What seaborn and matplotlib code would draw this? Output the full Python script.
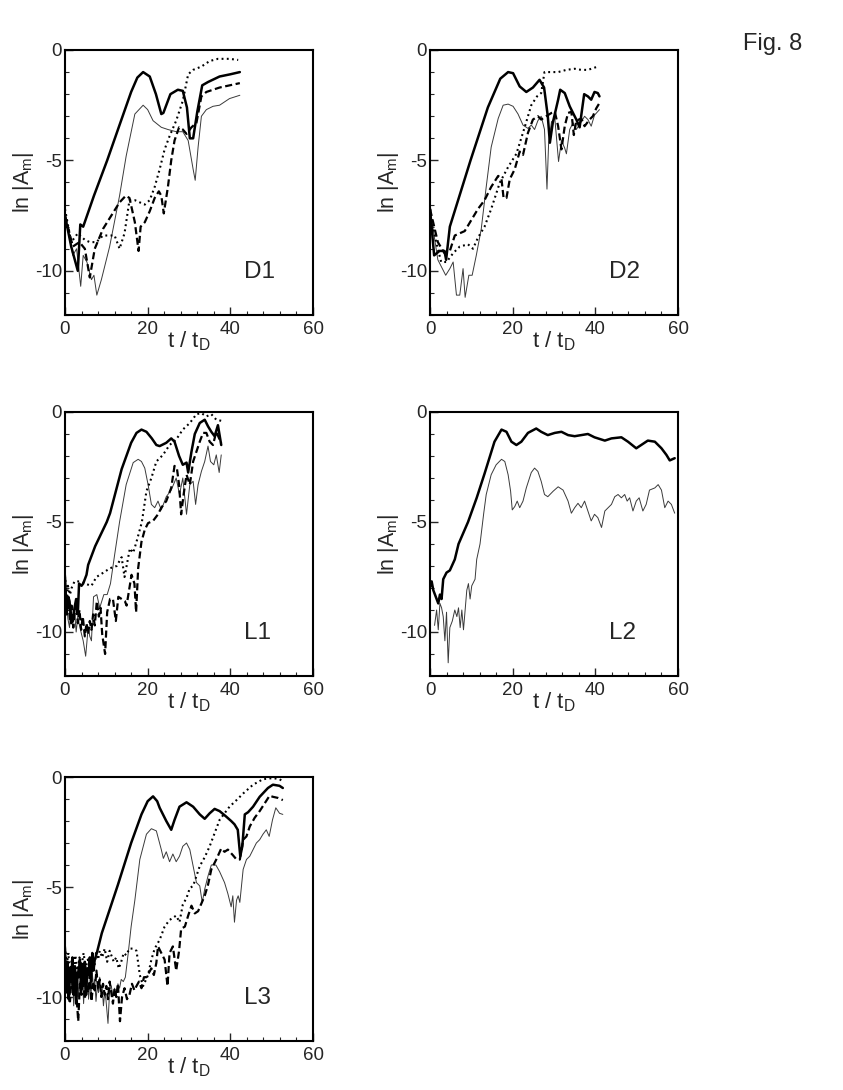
import matplotlib
matplotlib.use("Agg")
import matplotlib.pyplot as plt
import seaborn as sns
from matplotlib.ticker import MultipleLocator

# ---------------- data ----------------
PANEL_NAMES = ["D1", "D2", "L1", "L2", "L3"]
X_TICKS = [0, 20, 40, 60]
Y_TICKS = [-10, -5, 0]
Y_TICK_LABELS = ["-10", "-5", "0"]

# D1
D1_THICK_T = [0, 1.5, 3.1, 3.7, 4.4, 7, 10.2, 13, 16, 17.5, 18.9, 20.5, 22, 23.3, 23.8, 25.5, 27.3, 28.5, 29.5, 30.2, 31, 32, 33.2, 34.6, 37.4, 40, 42.3]
D1_THICK_Y = [-7.5, -8.9, -10, -7.9, -8.0, -6.6, -5.0, -3.5, -1.9, -1.25, -1.0, -1.2, -2.0, -2.9, -2.85, -2.0, -1.8, -1.85, -2.6, -4.0, -4.0, -2.8, -1.6, -1.45, -1.2, -1.1, -1.0]
D1_THIN_T = [0, 1.9, 2.8, 3.8, 4.4, 5.3, 6.4, 7.0, 7.7, 8.8, 10.8, 13.2, 14.8, 16.9, 18.9, 20, 21.3, 23.3, 24.9, 26.9, 28.5, 29.8, 31, 31.5, 32.2, 33, 34.2, 35.8, 37.4, 39.8, 42.3]
D1_THIN_Y = [-7.5, -9.3, -9.0, -10.7, -9.3, -9.6, -10.4, -10.2, -11.1, -10.4, -8.9, -6.6, -4.8, -2.9, -2.5, -2.7, -3.2, -3.5, -3.6, -3.7, -3.7, -4.1, -5.4, -5.9, -4.4, -3.0, -2.7, -2.55, -2.5, -2.2, -2.05]
D1_DASH_T = [0, 1.9, 3.5, 4.8, 6, 7.2, 9.2, 11.2, 13.2, 14.7, 15.6, 16.9, 17.8, 18.3, 19.3, 20.5, 21.7, 22.7, 23.3, 23.9, 24.9, 25.7, 26.5, 27.6, 28.5, 29.4, 30.6, 31.8, 33, 34.2, 37.4, 42.3]
D1_DASH_Y = [-7.5, -8.9, -8.7, -9.0, -10.3, -9.0, -8.1, -7.5, -6.9, -6.6, -6.7, -7.8, -9.1, -8.0, -7.8, -7.3, -6.7, -6.4, -6.6, -7.4, -6.2, -5.0, -4.1, -3.5, -3.6, -3.8, -3.5, -3.3, -2.1, -1.9, -1.7, -1.5]
D1_DOT_T = [0, 1.5, 3.1, 4.8, 6, 7.6, 9.2, 10.8, 12, 13.2, 14.4, 15.6, 16.9, 18.1, 19.3, 20.5, 21.7, 22.9, 24.1, 25.3, 26.9, 28.5, 29.8, 31, 33, 35, 37, 39.8, 41.9]
D1_DOT_Y = [-7.2, -8.7, -8.3, -8.6, -8.7, -8.7, -8.4, -8.4, -8.4, -9.0, -8.3, -6.8, -6.8, -6.9, -7.0, -6.8, -6.2, -5.4, -4.5, -3.9, -3.2, -2.3, -1.1, -0.9, -0.75, -0.5, -0.4, -0.4, -0.45]

# D2
D2_THICK_T = [0, 1, 2.3, 3.5, 3.9, 4.8, 9.8, 14, 17, 18.9, 20.1, 21.7, 23.3, 24.9, 26.5, 27.6, 28.5, 29, 29.7, 31, 31.5, 32.6, 33.8, 35.4, 36.2, 37.3, 38.2, 39, 39.8, 40.6, 41]
D2_THICK_Y = [-7.2, -9.3, -9.1, -9.1, -9.5, -8.0, -5.0, -2.6, -1.3, -1.0, -1.05, -1.65, -1.9, -1.7, -1.35, -1.7, -3.0, -4.2, -3.3, -2.25, -1.8, -1.95, -2.55, -3.15, -3.5, -2.0, -2.1, -2.25, -1.9, -1.95, -2.1]
D2_THIN_T = [0, 1.9, 3.8, 4.8, 5.6, 6.4, 7.2, 8, 8.5, 9.4, 10.2, 11.2, 12.4, 13.6, 14.8, 16.5, 17.7, 18.9, 20.1, 21.3, 22.5, 23.7, 24.5, 25.3, 26.1, 26.9, 27.7, 28.3, 28.7, 29.4, 30.2, 31.1, 31.8, 32.6, 33, 33.8, 34.6, 35.4, 36.6, 37.4, 38.2, 39, 39.8, 41]
D2_THIN_Y = [-7.2, -9.5, -10.2, -9.9, -9.6, -11.1, -11.1, -9.9, -11.2, -10.2, -10.2, -9.3, -8.1, -6.2, -4.4, -3.1, -2.5, -2.45, -2.55, -2.9, -3.4, -3.55, -3.4, -3.6, -3.2, -3.0, -3.6, -6.3, -4.2, -3.25, -3.1, -5.05, -4.1, -4.45, -4.7, -3.6, -3.3, -3.6, -3.25, -3.0, -3.15, -3.45, -2.95, -2.7]
D2_DASH_T = [0, 1.9, 3.5, 4.8, 6, 7.2, 8.4, 10, 11.6, 13.2, 14.8, 16.5, 17.3, 17.8, 18.5, 19.3, 20.5, 21.7, 22.5, 23.7, 24.9, 26.1, 26.9, 28.1, 29.4, 30.2, 31, 31.8, 32.6, 33.4, 34.2, 34.8, 35.4, 36.6, 37.4, 38.6, 39.4, 40.2, 41]
D2_DASH_Y = [-7.2, -8.7, -9.2, -9.1, -8.4, -8.3, -8.2, -7.7, -7.2, -6.8, -6.2, -5.7, -5.85, -6.7, -6.7, -5.85, -5.4, -4.6, -4.75, -3.75, -3.15, -3.0, -3.15, -3.0, -2.85, -2.8, -3.45, -4.5, -3.45, -2.85, -2.8, -3.85, -3.2, -3.1, -3.45, -3.15, -3.0, -2.65, -2.4]
D2_DOT_T = [0, 1.1, 2.7, 4, 5.6, 7.2, 9.2, 10.4, 11.6, 13.2, 14.8, 16.9, 18.9, 20.9, 22.9, 24.5, 25.9, 26.9, 27.7, 29.4, 31, 33, 35, 36.6, 38.2, 40.6]
D2_DOT_Y = [-7.2, -8.4, -9.6, -9.6, -9.2, -8.9, -8.8, -9.0, -8.5, -8.0, -7.2, -6.0, -5.3, -4.7, -3.5, -2.5, -2.1, -1.95, -1.0, -1.0, -1.0, -0.9, -0.85, -0.9, -0.9, -0.75]

# L1
L1_THICK_T = [0, 0.4, 0.8, 1.1, 1.5, 1.9, 2.3, 2.7, 3.1, 3.4, 4, 4.4, 5.2, 5.6, 7.3, 10.1, 10.9, 13.7, 16, 17.3, 18.5, 19.7, 21, 22.1, 22.9, 24.5, 25.7, 26.5, 27.6, 28.5, 29.4, 29.8, 30.6, 31.4, 32.6, 33.8, 34.6, 35.4, 36.2, 37, 37.8]
L1_THICK_Y = [-7.5, -9.2, -8.4, -8.6, -9.6, -9.5, -8.9, -8.5, -9.2, -7.8, -7.9, -7.8, -7.4, -6.95, -6.1, -5.0, -4.6, -2.6, -1.4, -0.95, -0.8, -0.9, -1.2, -1.5, -1.55, -1.4, -1.2, -1.35, -2.0, -2.4, -2.3, -2.75, -1.8, -1.0, -0.5, -0.35, -0.65, -0.9, -1.1, -0.6, -1.5]
L1_THIN_T = [0, 0.3, 0.7, 1.1, 1.5, 1.9, 2.3, 2.7, 3.1, 3.5, 4, 4.4, 5, 5.6, 6, 6.4, 6.9, 7.7, 8.4, 9.4, 10.2, 11, 12, 13.2, 14.8, 16.5, 17.7, 18.5, 19.3, 20.1, 20.9, 21.7, 22.5, 23.3, 24.5, 25.7, 26.9, 27.7, 28.5, 29.4, 30.2, 31, 31.6, 32.2, 33, 33.8, 34.6, 35.2, 36, 36.6, 37.3, 37.8]
L1_THIN_Y = [-7.6, -8.3, -9.4, -9.8, -8.8, -9.6, -9.0, -10.0, -9.3, -9.7, -10.1, -10.4, -11.1, -9.8, -10.2, -10.4, -8.4, -8.3, -8.9, -8.3, -8.3, -7.8, -6.5, -5.0, -3.3, -2.3, -2.15, -2.25, -2.55, -3.3, -4.2, -4.35, -4.05, -4.45, -3.85, -3.55, -3.0, -3.75, -3.0, -4.65, -3.3, -3.15, -4.2, -3.3, -2.7, -2.25, -1.55, -2.25, -2.4, -1.95, -2.75, -1.95]
L1_DASH_T = [0, 0.4, 0.8, 1.2, 1.6, 2, 2.3, 2.7, 3.1, 3.5, 3.9, 4.3, 4.8, 5.2, 5.6, 6, 6.4, 6.8, 7.2, 7.7, 8.2, 8.6, 9, 9.7, 10.2, 10.9, 11.6, 12.3, 12.9, 13.7, 14.5, 14.9, 15.5, 16.1, 16.8, 17.2, 17.7, 18.1, 18.5, 19.3, 20.1, 21.3, 22.5, 23.3, 24.5, 25.7, 26.5, 27.1, 27.6, 28.1, 28.7, 29.4, 30.2, 31, 31.8, 32.6, 33.4, 34.2, 35, 35.8, 36.6, 37.4, 37.8]
L1_DASH_Y = [-8.0, -9.0, -8.6, -9.5, -8.8, -9.8, -9.2, -8.7, -9.6, -9.0, -9.9, -9.3, -10.2, -9.6, -10.1, -9.5, -9.9, -9.2, -9.7, -8.6, -9.3, -8.9, -10.1, -11.0, -9.1, -8.5, -8.5, -9.5, -8.4, -8.5, -8.6, -8.8, -8.1, -7.4, -7.8, -9.1, -7.1, -6.5, -5.9, -5.35, -5.05, -4.95, -4.65, -4.35, -4.05, -3.45, -2.45, -2.6, -3.3, -4.65, -3.75, -2.85, -3.3, -2.25, -1.8, -1.35, -0.95, -0.95, -1.35, -1.5, -0.9, -1.25, -1.4]
L1_DOT_T = [0, 0.4, 0.7, 1.2, 1.6, 2.3, 3.5, 4.8, 6.4, 7.6, 9.3, 10.9, 12.5, 13.7, 14.4, 15.7, 16.5, 17.3, 18.6, 19.7, 20.9, 22.1, 23.7, 25.3, 26.9, 28.5, 30.2, 31.8, 33, 34.2, 35.4, 36.6, 37.8]
L1_DOT_Y = [-7.4, -8.6, -7.9, -8.3, -8.0, -7.7, -7.7, -7.8, -7.9, -7.5, -7.3, -7.1, -7.0, -6.6, -7.5, -6.2, -6.4, -5.9, -5.0, -3.6, -3.0, -2.25, -1.95, -1.5, -1.25, -0.8, -0.5, -0.1, -0.05, -0.2, -0.1, -0.35, -0.4]

# L2
L2_THICK_T = [0, 0.4, 0.8, 1.2, 1.6, 2.0, 2.4, 2.8, 3.2, 4.0, 4.8, 6.0, 6.9, 9.2, 11.3, 13.2, 15.6, 17.3, 18.5, 19.7, 20.9, 22.1, 23.7, 25.7, 26.9, 28.5, 30.2, 31.8, 33.4, 35, 36.6, 38.2, 39.8, 42.3, 43.9, 46.3, 47.9, 49.9, 51.1, 52.7, 54.4, 56, 57.2, 58, 59.2]
L2_THICK_Y = [-7.95, -7.7, -8.1, -8.3, -8.5, -8.7, -8.3, -8.5, -7.6, -7.3, -7.2, -6.7, -6.0, -5.0, -3.9, -2.8, -1.35, -0.8, -0.9, -1.35, -1.5, -1.35, -0.95, -0.75, -0.9, -1.05, -0.95, -0.9, -1.05, -1.1, -1.05, -1.0, -1.15, -1.3, -1.2, -1.15, -1.35, -1.65, -1.5, -1.3, -1.35, -1.65, -1.95, -2.2, -2.1]
L2_THIN_T = [1.1, 1.6, 2, 2.4, 2.8, 3.2, 3.6, 4, 4.4, 4.8, 5.4, 6, 6.5, 6.9, 7.3, 7.7, 8.1, 8.5, 8.9, 9.3, 9.7, 10.1, 10.9, 11.3, 12.1, 13, 13.6, 14.8, 16, 17.3, 18.1, 18.9, 19.5, 19.9, 20.5, 21.1, 21.7, 22.5, 23.3, 24.5, 25.3, 26.1, 26.9, 27.7, 28.5, 29.8, 31, 32.2, 33.4, 34.2, 35, 35.8, 36.6, 37.4, 38.2, 39, 39.8, 40.6, 41.5, 42.3, 43.1, 43.9, 44.7, 45.5, 46.3, 47.1, 47.7, 48.3, 49.1, 49.9, 50.6, 51.5, 52.3, 53.1, 54.4, 55.2, 56, 56.8, 57.6, 58.4, 59.2]
L2_THIN_Y = [-9.7, -9.0, -9.9, -8.7, -8.9, -9.3, -10.4, -9.1, -11.4, -9.8, -9.5, -9.0, -9.3, -8.9, -9.8, -9.0, -9.9, -9.0, -8.1, -7.8, -8.5, -7.9, -7.6, -6.7, -6.0, -4.6, -3.75, -2.85, -2.4, -2.15, -2.25, -2.85, -3.6, -4.45, -4.3, -4.05, -4.35, -4.05, -3.45, -2.75, -2.55, -2.7, -3.15, -3.75, -3.85, -3.6, -3.4, -3.55, -4.05, -4.6, -4.35, -4.15, -4.35, -4.05, -4.5, -4.95, -4.65, -4.8, -5.25, -4.5, -4.35, -4.2, -3.85, -3.75, -3.9, -3.75, -4.05, -3.9, -4.5, -4.05, -3.9, -4.5, -4.2, -3.55, -3.45, -3.3, -3.55, -4.35, -4.05, -4.2, -4.6]

# L3
L3_THICK_T = [0, 0.3, 0.6, 0.9, 1.2, 1.5, 1.8, 2.1, 2.4, 2.7, 3.0, 3.3, 3.6, 3.9, 4.2, 4.5, 4.8, 5.1, 5.4, 5.7, 6.0, 6.3, 6.6, 6.9, 7.2, 7.7, 8.9, 10.5, 12.8, 16, 18.5, 20, 21.3, 22.3, 22.9, 24.5, 25.7, 26.5, 27.7, 29.4, 31, 32.6, 33.8, 35, 36.2, 37.4, 39, 40.2, 41, 41.8, 42.4, 42.9, 43.5, 44.3, 45.5, 47.1, 49.1, 50.3, 51.9, 52.7]
L3_THICK_Y = [-7.8, -9.6, -8.4, -10.1, -8.7, -9.3, -8.2, -9.9, -8.6, -10.3, -8.9, -9.1, -8.3, -9.7, -8.5, -9.4, -8.4, -9.9, -8.7, -9.0, -8.2, -9.3, -8.0, -8.8, -8.3, -8.0, -7.1, -6.2, -4.9, -3.0, -1.7, -1.1, -0.88, -1.1, -1.4, -2.0, -2.4, -1.95, -1.35, -1.15, -1.35, -1.7, -1.9, -1.65, -1.45, -1.55, -1.8, -2.0, -2.15, -2.4, -3.6, -3.15, -1.7, -1.6, -1.35, -0.9, -0.5, -0.35, -0.4, -0.5]
L3_THIN_T = [0, 0.3, 0.6, 0.9, 1.2, 1.5, 1.8, 2.1, 2.4, 2.7, 3, 3.3, 3.6, 3.9, 4.2, 4.5, 4.8, 5.1, 5.4, 5.7, 6, 6.3, 6.6, 6.9, 7.2, 7.5, 7.8, 8.1, 8.4, 8.7, 9, 9.3, 9.6, 9.9, 10.4, 10.8, 11.2, 11.6, 12, 12.4, 12.8, 13.2, 13.6, 14.1, 14.6, 15.3, 16, 16.9, 18.1, 19.7, 20.9, 22.1, 23.3, 23.8, 24.5, 25.3, 26.1, 26.9, 27.7, 28.5, 29.4, 30.2, 31, 31.8, 32.6, 33.2, 33.8, 34.6, 35.4, 36.5, 37.4, 38.6, 39.4, 40.2, 40.6, 41, 41.5, 41.9, 42.3, 43.1, 43.9, 44.7, 45.5, 46.3, 47.1, 47.9, 48.7, 49.4, 50.2, 51, 51.9, 52.7]
L3_THIN_Y = [-8.0, -9.4, -8.6, -10.2, -9.0, -9.6, -8.8, -10.4, -9.1, -9.8, -8.7, -10.0, -9.3, -9.6, -8.9, -10.3, -9.2, -9.7, -8.8, -10.1, -9.4, -9.9, -8.9, -9.6, -9.2, -10.2, -9.5, -9.8, -9.1, -10.0, -9.6, -10.4, -9.8, -10.1, -11.2, -9.7, -9.5, -10.0, -9.6, -9.9, -9.4, -9.6, -9.2, -9.3, -9.1, -8.0, -6.8, -5.6, -3.75, -2.6, -2.35, -2.45, -3.3, -3.7, -3.4, -3.85, -3.5, -3.85, -3.6, -3.15, -3.0, -3.3, -4.05, -4.8, -4.95, -5.7, -5.1, -4.5, -4.0, -4.0, -4.3, -4.8, -5.3, -5.9, -5.4, -6.6, -5.6, -5.4, -5.7, -4.2, -3.75, -3.6, -3.3, -3.0, -2.85, -2.6, -2.4, -2.7, -1.95, -1.4, -1.65, -1.7]
L3_DASH_T = [0, 0.4, 0.8, 1.2, 1.6, 2, 2.4, 2.8, 3.2, 3.6, 4, 4.4, 4.8, 5.2, 5.6, 6, 6.4, 6.8, 7.2, 7.6, 8, 8.4, 8.8, 9.2, 9.6, 10, 10.4, 10.8, 11.2, 11.6, 12, 12.4, 12.8, 13.3, 13.8, 14.4, 15, 15.6, 16.2, 16.8, 17.3, 17.9, 18.5, 19.1, 19.7, 20.3, 20.9, 21.5, 22.1, 22.5, 23.3, 24.1, 24.8, 25.3, 26.1, 26.9, 27.6, 28.1, 29, 29.8, 30.6, 31.4, 32.2, 33, 33.8, 34.6, 35.4, 36.6, 37.8, 38.6, 39.4, 40.6, 41.5, 42.3, 43.1, 43.9, 44.7, 45.9, 47.1, 48.3, 49.5, 50.3, 51.5, 52.7]
L3_DASH_Y = [-8.3, -9.8, -9.0, -10.2, -9.1, -9.7, -8.9, -10.0, -11.1, -9.4, -9.9, -9.2, -10.1, -9.5, -9.8, -9.0, -10.2, -9.4, -9.7, -8.8, -9.6, -9.2, -10.0, -9.4, -9.9, -9.5, -10.1, -9.3, -9.8, -10.3, -9.6, -10.0, -9.4, -11.1, -10.0, -9.6, -10.1, -9.9, -9.4, -9.7, -9.5, -9.3, -9.6, -9.1, -9.1, -8.9, -8.7, -9.0, -8.45, -7.7, -8.0, -8.3, -9.5, -8.0, -7.7, -8.8, -7.9, -6.9, -6.8, -6.3, -5.85, -6.2, -6.1, -5.75, -5.4, -4.9, -4.2, -3.75, -3.25, -3.4, -3.3, -3.55, -3.75, -3.75, -2.85, -2.7, -2.25, -1.85, -1.55, -1.2, -0.85, -0.9, -0.95, -1.05]
L3_DOT_T = [0, 0.4, 0.8, 1.2, 1.6, 2, 2.5, 3, 3.5, 4, 4.5, 5, 5.5, 6, 6.5, 7, 7.5, 8, 8.4, 9, 9.6, 10.2, 10.8, 11.2, 11.8, 12.4, 13, 13.6, 14.2, 14.8, 15.6, 16.5, 17.3, 18.1, 18.9, 20.1, 20.9, 21.7, 22.9, 24.1, 25.3, 26.9, 27.7, 28.5, 29.4, 30.2, 31, 31.8, 32.6, 33.8, 35, 36.2, 37.4, 38.6, 39.8, 41.5, 43.1, 45.5, 47.9, 50.3, 51.9, 52.7]
L3_DOT_Y = [-7.7, -8.6, -8.0, -9.0, -8.3, -8.8, -8.1, -8.9, -8.2, -8.6, -8.0, -8.7, -8.3, -8.5, -8.2, -8.8, -8.0, -8.3, -7.9, -8.2, -7.8, -8.4, -7.9, -8.1, -8.4, -8.2, -8.7, -8.4, -8.0, -8.1, -7.8, -7.8, -7.9, -9.0, -9.5, -9.0, -8.3, -7.8, -7.4, -6.8, -6.5, -6.3, -6.6, -5.8, -5.5, -5.05, -4.95, -4.5, -4.05, -3.65, -3.15, -2.55, -1.95, -1.65, -1.35, -1.05, -0.75, -0.35, -0.1, -0.05, -0.1, -0.2]

# ---------------- style ----------------
sns.set_style("ticks")
plt.rcParams["font.family"] = ["Liberation Sans", "DejaVu Sans"]
plt.rcParams["axes.unicode_minus"] = False
plt.rcParams["mathtext.fontset"] = "custom"
plt.rcParams["mathtext.rm"] = "Liberation Sans"
plt.rcParams["mathtext.it"] = "Liberation Sans"

STYLES = {
    "thick": dict(color="black", lw=1.8, linestyle="-"),
    "thin": dict(color="#3a3a3a", lw=0.7, linestyle="-"),
    "dash": dict(color="black", lw=1.6, linestyle=(0, (3.2, 1.6))),
    "dot": dict(color="black", lw=1.5, linestyle=(0, (0.9, 1.6))),
}

SERIES = {
    "D1": [("thin", D1_THIN_T, D1_THIN_Y), ("dot", D1_DOT_T, D1_DOT_Y), ("dash", D1_DASH_T, D1_DASH_Y), ("thick", D1_THICK_T, D1_THICK_Y)],
    "D2": [("thin", D2_THIN_T, D2_THIN_Y), ("dot", D2_DOT_T, D2_DOT_Y), ("dash", D2_DASH_T, D2_DASH_Y), ("thick", D2_THICK_T, D2_THICK_Y)],
    "L1": [("thin", L1_THIN_T, L1_THIN_Y), ("dot", L1_DOT_T, L1_DOT_Y), ("dash", L1_DASH_T, L1_DASH_Y), ("thick", L1_THICK_T, L1_THICK_Y)],
    "L2": [("thin", L2_THIN_T, L2_THIN_Y), ("thick", L2_THICK_T, L2_THICK_Y)],
    "L3": [("thin", L3_THIN_T, L3_THIN_Y), ("dot", L3_DOT_T, L3_DOT_Y), ("dash", L3_DASH_T, L3_DASH_Y), ("thick", L3_THICK_T, L3_THICK_Y)],
}

W, H = 843, 1090
fig = plt.figure(figsize=(W / 100, H / 100), dpi=100)

# axes rectangles in pixel units (left, top, right, bottom)
RECTS = {
    "D1": (65, 50, 313, 315),
    "D2": (430, 50, 678, 315),
    "L1": (65, 412, 313, 676),
    "L2": (430, 412, 678, 676),
    "L3": (65, 777, 313, 1041),
}

for name in PANEL_NAMES:
    l, t, r, b = RECTS[name]
    ax = fig.add_axes([l / W, 1 - b / H, (r - l) / W, (b - t) / H])
    for kind, xs, ys in SERIES[name]:
        sns.lineplot(x=xs, y=ys, ax=ax, sort=False, estimator=None, legend=False, **STYLES[kind])
    ax.set_xlim(0, 60)
    ax.set_ylim(-12, 0)
    ax.set_xticks(X_TICKS)
    ax.set_yticks(Y_TICKS)
    ax.set_yticklabels(Y_TICK_LABELS)
    ax.xaxis.set_minor_locator(MultipleLocator(4))
    ax.yaxis.set_minor_locator(MultipleLocator(1))
    ax.tick_params(which="major", direction="in", length=6, width=1.0, labelsize=13.5,
                   top=False, right=False)
    ax.tick_params(axis="x", which="major", pad=4)
    ax.tick_params(axis="y", which="major", pad=2)
    ax.tick_params(which="minor", direction="in", length=3, width=0.8, top=False, right=False)
    for sp in ax.spines.values():
        sp.set_visible(True)
        sp.set_linewidth(1.5)
        sp.set_color("black")
    ax.set_xlabel("t / t$_\\mathregular{D}$", fontsize=16, labelpad=-6)
    ax.set_ylabel("ln |A$_\\mathregular{m}$|", fontsize=15.5, labelpad=-1)
    ax.text(43.3, -10.05, name, fontsize=17.5, ha="left", va="center")

fig.text(743 / W, 1 - 50 / H, "Fig. 8", fontsize=17, ha="left", va="baseline")

fig.savefig("out.png", dpi=100)
